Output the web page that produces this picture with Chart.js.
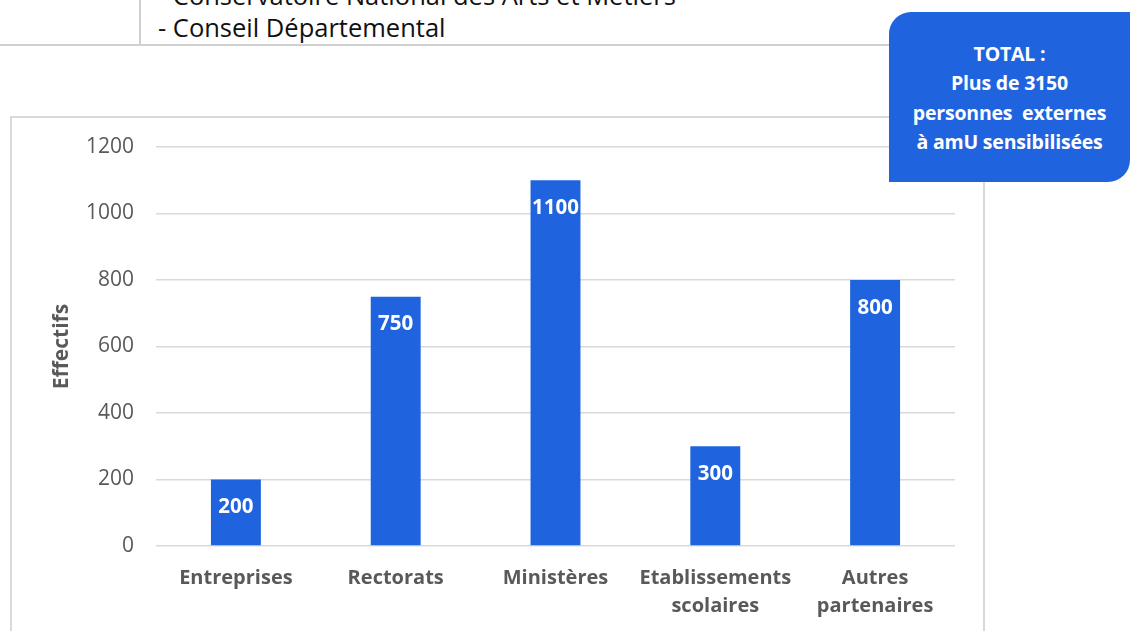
<!DOCTYPE html>
<html>
<head>
<meta charset="utf-8">
<script src="https://cdn.jsdelivr.net/npm/chart.js@4"></script>
<style>
    body { margin: 0; width: 1130px; height: 631px; overflow: hidden; background: #fff; position: relative; font-family: 'Open Sans', sans-serif; }
    .tline-h { position: absolute; left: 0; top: 44px; width: 900px; height: 2px; background: #d0d0d0; }
    .tline-v { position: absolute; left: 139px; top: 0; width: 2px; height: 45px; background: #d0d0d0; }
    .ttext { position: absolute; left: 158px; font-size: 25.5px; color: #111; white-space: nowrap; line-height: 33px; }
    .frame { position: absolute; left: 10px; top: 116px; width: 971px; height: 600px; border: 2px solid #d9d9d9; }
    .total { position: absolute; left: 889px; top: 12px; width: 241px; height: 170px; background: #1f64de;
             border-radius: 22px 0 22px 0; color: #fff; font-weight: bold; font-size: 19.5px; text-align: center;
             line-height: 29.3px; box-sizing: border-box; padding-top: 27px; white-space: pre; letter-spacing: -0.2px; }
    #wrap { position: absolute; left: 11px; top: 118px; width: 971px; height: 513px; }
</style>
</head>
<body>
<div class="tline-h"></div>
<div class="tline-v"></div>
<div class="ttext" style="top:-21px">- Conservatoire National des Arts et Métiers</div>
<div class="ttext" style="top:11px">- Conseil Départemental</div>
<div class="frame"></div>
<div id="wrap"><canvas id="effChart"></canvas></div>
<div class="total">TOTAL :
Plus de 3150
personnes  externes
à amU sensibilisées</div>

<script>
// Data
const categories = ['Entreprises', 'Rectorats', 'Ministères', ['Etablissements', 'scolaires'], ['Autres', 'partenaires']];
const effectifs = [200, 750, 1100, 300, 800];
const yTicks = [0, 200, 400, 600, 800, 1000, 1200];

const barColor = '#1f64de';
const textGray = '#595959';

// value labels drawn inside the top of each bar
const valueLabels = {
    id: 'valueLabels',
    afterDatasetsDraw(chart) {
        const ctx = chart.ctx;
        const meta = chart.getDatasetMeta(0);
        ctx.save();
        ctx.fillStyle = '#fff';
        ctx.font = 'bold 20.5px "Open Sans"';
        ctx.textAlign = 'center';
        ctx.textBaseline = 'middle';
        meta.data.forEach((bar, i) => {
            ctx.fillText(String(effectifs[i]), bar.x, bar.y + 28);
        });
        ctx.restore();
    }
};

const ctx = document.getElementById('effChart').getContext('2d');
new Chart(ctx, {
    type: 'bar',
    data: {
        labels: categories,
        datasets: [{
            label: 'Effectifs',
            data: effectifs,
            backgroundColor: barColor,
            borderWidth: 0,
            categoryPercentage: 1,
            barPercentage: 0.3125
        }]
    },
    options: {
        responsive: true,
        maintainAspectRatio: false,
        animation: false,
        layout: { padding: { top: 29, right: 27, left: 0, bottom: 0 } },
        plugins: {
            legend: { display: false },
            tooltip: { enabled: false }
        },
        scales: {
            x: {
                grid: { display: false, drawTicks: false },
                border: { display: false },
                ticks: {
                    color: textGray,
                    font: { family: 'Open Sans', size: 20, weight: 'bold', lineHeight: 1.4 },
                    padding: 18,
                    maxRotation: 0,
                    autoSkip: false
                },
                afterFit(scale) { scale.height = 85; }
            },
            y: {
                min: 0,
                max: 1200,
                afterBuildTicks(scale) { scale.ticks = yTicks.map(v => ({ value: v })); },
                grid: { color: '#d9d9d9', lineWidth: 1.5, drawTicks: false },
                border: { display: false },
                ticks: {
                    color: textGray,
                    font: { family: 'Open Sans', size: 21 },
                    padding: 22,
                    callback: v => String(v)
                },
                title: {
                    display: true,
                    text: 'Effectifs',
                    color: textGray,
                    font: { family: 'Open Sans', size: 21, weight: 'bold', lineHeight: 1.2 },
                    padding: { top: 38, bottom: 0 }
                },
                afterFit(scale) {
                    scale.width = 145;
                    scale.paddingTop = 12;
                    scale.paddingBottom = 12;
                }
            }
        }
    },
    plugins: [valueLabels]
});
</script>
</body>
</html>
